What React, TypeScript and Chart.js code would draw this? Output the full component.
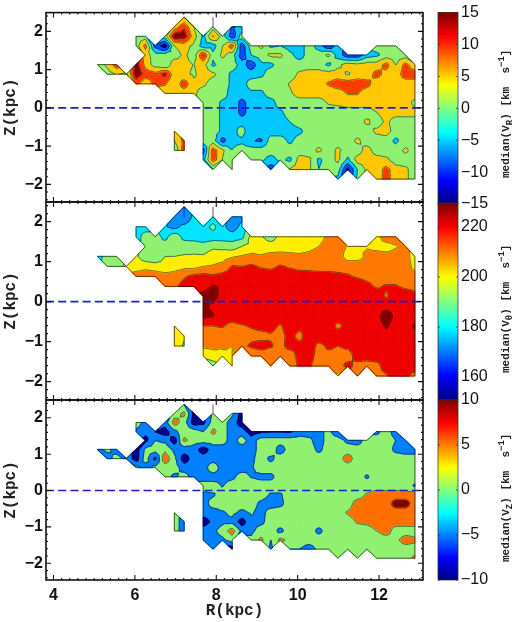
import React, { useEffect, useRef } from "react";
import { Chart, registerables } from "chart.js";

Chart.register(...registerables);

type Span = number[];
const rGrid = [5.08,5.32,5.55,5.79,6.03,6.26,6.5,6.74,6.97,7.21,7.45,7.68,7.92,8.15,8.39,8.63,8.86,9.1,9.34,9.57,9.81,10.05,10.28,10.52,10.76,10.99,11.23,11.47,11.7,11.94,12.18,12.41,12.65,12.88];
const zGrid = [2.37,2.12,1.87,1.62,1.38,1.13,0.88,0.63,0.38,0.13,-0.12,-0.36,-0.61,-0.86,-1.11,-1.36,-1.61,-1.86];

// Each row: spans of [first R index, values...]; everything else has no data.
const vRRows: Span[][] = [
  [[9,2],[12,0]],
  [[8,4,10,2],[12,0],[14,-7,-5]],
  [[4,0,0],[7,0,14,13,4,-3,7,0,-9,0]],
  [[4,0,8,-8,-13,2,4,1,-4,-4,2,9,-9,0,3,-3,-2,-4,-4,0,-4,-10,-4],[29,0,0,0]],
  [[5,4,0,0,0,3,0,11,-1,3,0,-9,-2,0,3,3,-1,-4,0,0,3,-4,-9,-9,-4,-3,0,0,0]],
  [[0,0,3,9],[4,13,5,0,-2,5,3,2,4,-3,0,0,-4,-9,-3,-3,0,0,0,0,0,-3,1,4,3,4,4,8,2,8,3]],
  [[1,0,2.5,1,14,9,8,12,4,3,1.5,4,3,0,-3,-4,-4,-3,0,0,0,3,4,4,4,4,1.5,4,4,8,5,4,9,9]],
  [[4,8,3,8,7,3,9,3,3,0,0,-3,-4,0,0,0,0,2.5,4,4,4,7,9,9,9,8,4,4,4,4,4]],
  [[7,3,4,4,3,0,0,0,-4,-4,-3,-3,0,0,1.5,4,4,4,4,4,6.8,6.8,4,4,4,4,4,4]],
  [[11,0,0,-3,-3,-8,-4,-4,-4,0,0,0,0,0,2.5,3,4,4,4,4,4,4,4,1]],
  [[11,0,0,-3,-3,-8,-4,-4,-4,-3,0,0,0,0,0,0,0,0,0,2,4,4,4,4]],
  [[11,0,0,-3,-3,-4,-4,-4,-4,-4,-2,0,0,0,0,0,0,0,3,0,3,0,0,0]],
  [[8,3],[11,0,0,-3,-4,0,-6,-4,-4,-4,-4,-3,0,0,0,0,0,0,0,3,4,0,0,0]],
  [[8,2,8],[11,0,0,-8,-3,-3,-6,-7,0,0,-3,0,0,0,0,0,0,3,0,0,0,-3,0,0]],
  [[8,-2,9],[11,-8,9,3,-2,0,0,0,0,0,0,0,0,3,0,3,0,0,4,0,0,0,3,0]],
  [[11,-4,9,2,-2],[16,-1,-1,-4,-1,-3,4,3,-3,0,3,-3,4,4,4,3,0,0,0]],
  [[12,-2],[14,-2],[18,-9],[20,2.5,4,3,-2,0,0,-12,-2,3,4,8,4,3,0]],
  [[25,-3],[27,-1],[29,3,9,3,3,0]],
];

const vThetaRows: Span[][] = [
  [[9,165],[12,190]],
  [[8,172,165,178],[12,180],[14,170,172]],
  [[4,180,180],[7,176,172,178,180,180,188,178,170,178]],
  [[4,180,190,190,182,192,182,180,178,180,180,180,182,198,196,190,198,199,200,200,200,208,210],[29,201,212,212]],
  [[5,190,188,190,190,190,192,190,193,192,190,195,198,200,200,200,200,200,202,205,211,210,204,205,204,202,200,204,209]],
  [[0,180,190,185],[4,197,188,186,195,195,196,196,196,200,201,204,206,208,206,208,209,208,207,208,210,211,211,200,200,208,209,209,209,209,200]],
  [[1,192,190,198,200,202,200,198,200,202,202,205,206,208,216,215,217,214,213,216,214,212,212,212,212,212,212,212,212,210,210,210,210,202]],
  [[4,210,211,211,209,210,214,218,219,217,219,220,220,220,220,220,220,220,220,219,218,218,217,216,214,212,211,211,210,210,209]],
  [[7,214,213,219,220,222,226,224,222,222,222,222,222,222,222,222,222,222,222,222,222,222,218,214,216,216,213,212]],
  [[11,228,229,222,222,222,222,222,222,222,222,222,222,222,222,222,222,222,222,222,214,222,222,218]],
  [[11,228,223,220,222,222,222,222,222,222,222,222,222,222,222,222,222,222,222,222,222,222,222,222]],
  [[11,228,226,220,220,222,222,222,222,222,222,222,222,222,222,222,222,222,222,222,231,222,222,222]],
  [[8,200],[11,215,215,216,212,214,216,218,218,214,220,218,222,222,222,212,220,220,215,222,226,222,222,226]],
  [[8,199,196],[11,212,210,210,210,210,212,212,214,212,218,212,222,222,222,222,222,222,222,222,222,222,222,222]],
  [[8,200,194],[11,207,208,206,205,212,217,219,216,212,219,218,221,212,217,215,217,220,222,222,222,222,222,222]],
  [[11,197,200,203,205],[16,207,209,210,212,208,220,218,212,212,212,211,219,220,220,220,220,220,220]],
  [[12,190],[14,196],[18,205],[20,207,218,216,212,210,211,218,212,210,212,220,220,220,220]],
  [[25,203],[27,208],[29,213,214,220,217,212]],
];

const vZRows: Span[][] = [
  [[9,-2],[12,-4]],
  [[8,0,3,-7],[12,-1],[14,-1,-8]],
  [[4,1,-4],[7,-4,4,0,-8,-7,0,0,-4,-8]],
  [[4,-3,-5,-6,-8,-3,0,0,-2,3,0,-4,-4,-8,-6.5,-6.2,-6.2,-6.5,-4,-4,-3,-1,-5],[29,-3,0,-4]],
  [[5,-7,-2,-3,-8,3,0,0,0,0,-4,0,-4,0,0,0,0,0,-1,-4,0,0,-3,-4,0,0,0,-2,-4]],
  [[0,-3,-1,-4],[4,-8,-1,0,1,-3,-4,-4,-8,-4,-4,-4,-4,-4,0,1,-4,0,0,0,-3,0,0,0,0,0,0,0,-3,-4,-4]],
  [[1,-4,0,-3,-8,0,-7,5,-1,-8,-4,-4,-4,-4,-4,-3,-3,0,-3,0,0,0,0,0,0,0,4,0,0,0,0,0,0,0]],
  [[4,-1,-4,-1,0,0,-4,-4,-4,1,-4,-4,-4,-2.5,0,0,0,0,0,0,0,0,0,0,0,0,0,0,0,0,0]],
  [[7,0,-3,0,-4,-4,-4,-3,-3,0,-2.2,-3,-3,0,0,0,0,0,0,0,0,0,-2.5,0,0,0,0,0]],
  [[11,0,0,-2.2,0,0,0,0,0,0,0,0,0,0,0,0,0,0,0,0,0,0,0,-2.5]],
  [[11,-3,-2.5,0,0,0,0,0,-2.5,-2.5,0,0,0,0,0,0,0,0,2.5,4,4,4,4,4]],
  [[11,-4,0,0,0,0,0,-3,-4,-3,0,0,0,0,0,0,0,4,4,4,4,8,8,4]],
  [[8,0],[11,-4,-4,-2.5,-1,-3,-1.5,-3.5,0,0,0,0,0,0,0,0,2.5,4,4,4,4,4,4,4]],
  [[8,0,-4],[11,-8,-5,-3,-3,-8,-3,-3,0,0,0,0,0,0,0,0,0,2.5,3,4,4,4,4,4]],
  [[8,0,-4],[11,-4,-3,0,4,-3,-3,0,0,-3,0,0,0,-3,0,0,0,0,0,2,4,0,0,0]],
  [[11,-4,-4,-3,0],[16,-1,3,-2,3,1,0,0,0,0,0,0,0,0,0,0,1,4,3]],
  [[12,-4],[14,-8],[18,-3],[20,-2,-2,-4,-1,0,0,0,0,0,0,0,0,0,0]],
  [[25,0],[27,0],[29,0,0,0,0,3]],
];

const vRLevels = [-10.7,-6.4,-2.1,2.1,6.4,10.7];
const vRColors = ["#00008f","#0050ff","#00c8ff","#90f070","#ffc800","#ff3c00","#800000"];
const vThetaLevels = [165,175,185,195,205,215,225];
const vThetaColors = ["#0040e0","#0090ff","#00e4ff","#90f070","#ffee00","#ff7800","#ee0000","#800000"];
const vZLevels = [-6,-2,2,6];
const vZColors = ["#00008f","#0080ff","#90f070","#ff7000","#800000"];

const rTicks = [4,6,8,10,12];
const zTicks = [-2,-1,0,1,2];
const vRBarTicks = [-15,-10,-5,0,5,10,15];
const vThetaBarTicks = [160,180,200,220];
const vZBarTicks = [-10,-5,0,5,10];

const R_MIN = 3.816, R_MAX = 13.08, Z_MIN = -2.46, Z_MAX = 2.49;
const W = 520, H = 622;
const LEFT = 46, RIGHT = 423, BAR_L = 438, BAR_R = 458;
const minus = (v: number) => (v < 0 ? "\u2212" + Math.abs(v) : String(v));

type V = { x: number; y: number; v: number };
function clip(poly: V[], level: number, above: boolean): V[] {
  const out: V[] = [];
  for (let k = 0; k < poly.length; k++) {
    const a = poly[k], b = poly[(k + 1) % poly.length];
    const ia = above ? a.v >= level : a.v <= level;
    const ib = above ? b.v >= level : b.v <= level;
    if (ia) out.push(a);
    if (ia !== ib) {
      const t = (level - a.v) / (b.v - a.v);
      out.push({ x: a.x + t * (b.x - a.x), y: a.y + t * (b.y - a.y), v: level });
    }
  }
  return out;
}

function buildContours(rows: Span[][], levels: number[], colors: string[]) {
  const grid: (number | null)[][] = zGrid.map(() => rGrid.map(() => null));
  rows.forEach((spans, j) => spans.forEach(([start, ...vals]) => vals.forEach((v, k) => {
    if (start + k < rGrid.length) grid[j][start + k] = v;
  })));
  const vert = (i: number, j: number): V | null =>
    grid[j][i] === null ? null : { x: rGrid[i], y: zGrid[j], v: grid[j][i] as number };
  const gap = { x: NaN, y: NaN };
  const edgeCount = new Map<string, [V, V, number]>();
  const tris: V[][] = [];
  const edgeKey = (a: V, b: V) => {
    const ka = a.x + "," + a.y, kb = b.x + "," + b.y;
    return ka < kb ? ka + "|" + kb : kb + "|" + ka;
  };
  const addTri = (t: V[]) => {
    tris.push(t);
    t.forEach((a, n) => {
      const b = t[(n + 1) % 3], key = edgeKey(a, b);
      const e = edgeCount.get(key);
      if (e) e[2]++; else edgeCount.set(key, [a, b, 1]);
    });
  };
  for (let j = 0; j < zGrid.length - 1; j++) {
    for (let i = 0; i < rGrid.length - 1; i++) {
      const cs = [vert(i, j), vert(i + 1, j), vert(i + 1, j + 1), vert(i, j + 1)].filter(Boolean) as V[];
      if (cs.length === 4) {
        const m: V = {
          x: (cs[0].x + cs[1].x) / 2,
          y: (cs[0].y + cs[3].y) / 2,
          v: (cs[0].v + cs[1].v + cs[2].v + cs[3].v) / 4,
        };
        cs.forEach((a, n) => addTri([a, cs[(n + 1) % 4], m]));
      } else if (cs.length === 3) addTri(cs);
    }
  }
  const outline: { x: number; y: number }[] = [];
  edgeCount.forEach(([a, b, c]) => {
    if (c === 1) outline.push({ x: a.x, y: a.y }, { x: b.x, y: b.y }, gap);
  });
  for (let j = 0; j < zGrid.length - 1; j++) {
    for (let i = 0; i < rGrid.length; i++) {
      const a = vert(i, j), b = vert(i, j + 1);
      if (a && b && !edgeCount.has(edgeKey(a, b))) outline.push({ x: a.x, y: a.y }, { x: b.x, y: b.y }, gap);
    }
  }
  const lines: { x: number; y: number }[] = [];
  for (const t of tris) {
    for (const L of levels) {
      const pts: { x: number; y: number }[] = [];
      t.forEach((a, n) => {
        const b = t[(n + 1) % 3];
        if ((a.v >= L) !== (b.v >= L)) {
          const f = (L - a.v) / (b.v - a.v);
          pts.push({ x: a.x + f * (b.x - a.x), y: a.y + f * (b.y - a.y) });
        }
      });
      if (pts.length === 2) lines.push(pts[0], pts[1], gap);
    }
  }
  const bands = colors.map((color, k) => {
    const data: { x: number; y: number }[] = [];
    for (const t of tris) {
      let p = t;
      if (k > 0) p = clip(p, levels[k - 1], true);
      if (p.length >= 3 && k < levels.length) p = clip(p, levels[k], false);
      if (p.length >= 3) {
        p.forEach((q) => data.push({ x: q.x, y: q.y }));
        data.push({ x: p[0].x, y: p[0].y }, gap);
      }
    }
    return {
      data, showLine: true, fill: "shape", backgroundColor: color, borderColor: color,
      borderWidth: 1.3, borderDash: [100000, 1], borderJoinStyle: "round", pointRadius: 0, spanGaps: false,
    };
  });
  const lineSet = (data: any[], w: number, c: string) => ({
    data, showLine: true, fill: false, borderColor: c, borderWidth: w,
    borderDash: [100000, 1], pointRadius: 0, spanGaps: false,
  });
  return [
    {
      data: [{ x: R_MIN, y: 0 }, { x: R_MAX, y: 0 }], showLine: true, fill: false, borderColor: "#1c1cd0",
      borderWidth: 1.6, borderDash: [8, 4.2], pointRadius: 0,
    },
    lineSet(outline, 0.8, "rgba(20,20,20,0.85)"),
    lineSet(lines, 0.7, "rgba(20,20,20,0.8)"),
    ...bands,
  ];
}

function frame(xMajor: number[], yMajor: number[], panel: boolean) {
  return {
    id: "frame",
    afterDraw(chart: any) {
      const { ctx, chartArea: a } = chart;
      const ys = chart.scales.y, xs = chart.scales.x;
      ctx.save();
      ctx.strokeStyle = panel ? "#111" : "rgba(50,50,50,0.75)";
      ctx.lineWidth = panel ? 1.6 : 1;
      ctx.strokeRect(a.left, a.top, a.right - a.left, a.bottom - a.top);
      ctx.lineWidth = panel ? 1.1 : 1;
      ctx.beginPath();
      const hTick = (v: number, len: number) => {
        const y = ys.getPixelForValue(v);
        ctx.moveTo(a.left, y); ctx.lineTo(a.left + len, y);
        ctx.moveTo(a.right, y); ctx.lineTo(a.right - len, y);
      };
      const vTick = (v: number, len: number) => {
        const x = xs.getPixelForValue(v);
        ctx.moveTo(x, a.top); ctx.lineTo(x, a.top + len);
        ctx.moveTo(x, a.bottom); ctx.lineTo(x, a.bottom - len);
      };
      yMajor.forEach((v) => hTick(v, panel ? 5 : 2));
      if (panel) {
        xMajor.forEach((v) => vTick(v, 5));
        for (let v = 4; v < R_MAX; v += 0.2) vTick(v, 2);
        for (let v = -2.4; v < Z_MAX; v += 0.2) hTick(v, 2);
      }
      ctx.stroke();
      ctx.restore();
    },
  };
}

type PanelCfg = { rows: Span[][]; levels: number[]; colors: string[]; top: number; bottom: number; xLabels: boolean };
const panels: PanelCfg[] = [
  { rows: vRRows, levels: vRLevels, colors: vRColors, top: 10, bottom: 202, xLabels: false },
  { rows: vThetaRows, levels: vThetaLevels, colors: vThetaColors, top: 202, bottom: 400, xLabels: false },
  { rows: vZRows, levels: vZLevels, colors: vZColors, top: 400, bottom: 580, xLabels: true },
];
const bars = [
  { min: -15, max: 15, ticks: vRBarTicks, top: 10, bottom: 204 },
  { min: 150.8, max: 229.6, ticks: vThetaBarTicks, top: 203, bottom: 400 },
  { min: -10, max: 10, ticks: vZBarTicks, top: 400, bottom: 580 },
];
const barLabels = [
  { sub: "R", left: 499, bottom: 178 },
  { sub: "\u03B8", left: 499, bottom: 373 },
  { sub: "Z", left: 499, bottom: 562 },
];

function jet(t: number) {
  const c = (x: number) => Math.round(255 * Math.max(0, Math.min(1, x)));
  return `rgb(${c(Math.min(4 * t - 1.5, -4 * t + 4.5))},${c(Math.min(4 * t - 0.5, -4 * t + 3.5))},${c(Math.min(4 * t + 0.5, -4 * t + 2.5))})`;
}

function panelConfig(p: PanelCfg): any {
  return {
    type: "scatter",
    data: { datasets: buildContours(p.rows, p.levels, p.colors) },
    plugins: [frame(rTicks, zTicks, true)],
    options: {
      responsive: false,
      animation: false,
      events: [],
      layout: { padding: { left: 0, top: p.top, right: W - RIGHT, bottom: 0 } },
      plugins: { legend: { display: false }, tooltip: { enabled: false } },
      scales: {
        x: {
          type: "linear", min: R_MIN, max: R_MAX,
          afterBuildTicks: (s: any) => { s.ticks = rTicks.map((value) => ({ value })); },
          afterFit: (s: any) => { s.height = H - p.bottom; },
          grid: { display: false, drawTicks: false },
          border: { display: false },
          title: {
            display: p.xLabels, text: "R(kpc)", color: "#222", padding: { top: 0, bottom: 1 },
            font: { family: "Liberation Mono", weight: "bold", size: 16 },
          },
          ticks: {
            display: p.xLabels, maxRotation: 0, padding: 6, color: "#111",
            callback: (v: number) => minus(v),
            font: { family: "Liberation Sans", size: 16, weight: "bold" },
          },
        },
        y: {
          type: "linear", min: Z_MIN, max: Z_MAX,
          afterBuildTicks: (s: any) => { s.ticks = zTicks.map((value) => ({ value })); },
          afterFit: (s: any) => { s.width = LEFT; },
          grid: { display: false, drawTicks: false },
          border: { display: false },
          title: {
            display: true, text: "Z(kpc)", color: "#222", padding: { top: 1, bottom: 0 },
            font: { family: "Liberation Mono", weight: "bold", size: 16 },
          },
          ticks: {
            padding: 3, color: "#111",
            callback: (v: number) => minus(v),
            font: { family: "Liberation Sans", size: 16, weight: "bold" },
          },
        },
      },
    },
  };
}

function barConfig(b: (typeof bars)[number]): any {
  const steps = 96;
  const datasets: any[] = [];
  for (let k = steps - 1; k >= 0; k--) {
    const lo = b.min + ((b.max - b.min) * k) / steps;
    datasets.push({
      data: [[lo, b.max]], backgroundColor: jet((k + 0.5) / steps),
      barPercentage: 1, categoryPercentage: 1, borderWidth: 0,
    });
  }
  return {
    type: "bar",
    data: { labels: ["scale"], datasets },
    plugins: [frame([], b.ticks, false)],
    options: {
      responsive: false,
      animation: false,
      events: [],
      layout: { padding: { left: BAR_L, top: b.top, right: 0, bottom: H - b.bottom } },
      plugins: { legend: { display: false }, tooltip: { enabled: false } },
      scales: {
        x: { display: false, stacked: true },
        y: {
          position: "right", min: b.min, max: b.max,
          afterBuildTicks: (s: any) => { s.ticks = b.ticks.map((value) => ({ value })); },
          afterFit: (s: any) => { s.width = W - BAR_R; },
          grid: { display: false, drawTicks: false },
          border: { display: false },
          ticks: {
            padding: 3, color: "#111", callback: (v: number) => minus(v),
            font: { family: "Liberation Sans", size: 16 },
          },
        },
      },
    },
  };
}

export default function App() {
  const refs = useRef<(HTMLCanvasElement | null)[]>([]);
  useEffect(() => {
    const configs = [...panels.map(panelConfig), ...bars.map(barConfig)];
    const charts = configs.map((c, k) => new Chart(refs.current[k] as HTMLCanvasElement, c));
    return () => charts.forEach((c) => c.destroy());
  }, []);
  return (
    <div style={{ position: "absolute", left: 0, top: 0, width: W, height: H, background: "#fff", overflow: "hidden" }}>
      {[0, 1, 2, 3, 4, 5].map((k) => (
        <canvas
          key={k}
          ref={(el) => { refs.current[k] = el; }}
          width={W}
          height={H}
          style={{ position: "absolute", left: 0, top: 0 }}
        />
      ))}
      {barLabels.map((l) => (
        <div
          key={l.sub}
          style={{
            position: "absolute", left: l.left, top: l.bottom, transformOrigin: "0 0", transform: "rotate(-90deg)",
            font: "bold 11px 'Liberation Mono'", lineHeight: "14px", whiteSpace: "pre", color: "#222",
          }}
        >
          median(V<sub style={{ fontSize: 9, lineHeight: 0 }}>{l.sub}</sub>) [km  s<sup style={{ fontSize: 9, lineHeight: 0 }}>−1</sup>]
        </div>
      ))}
    </div>
  );
}
